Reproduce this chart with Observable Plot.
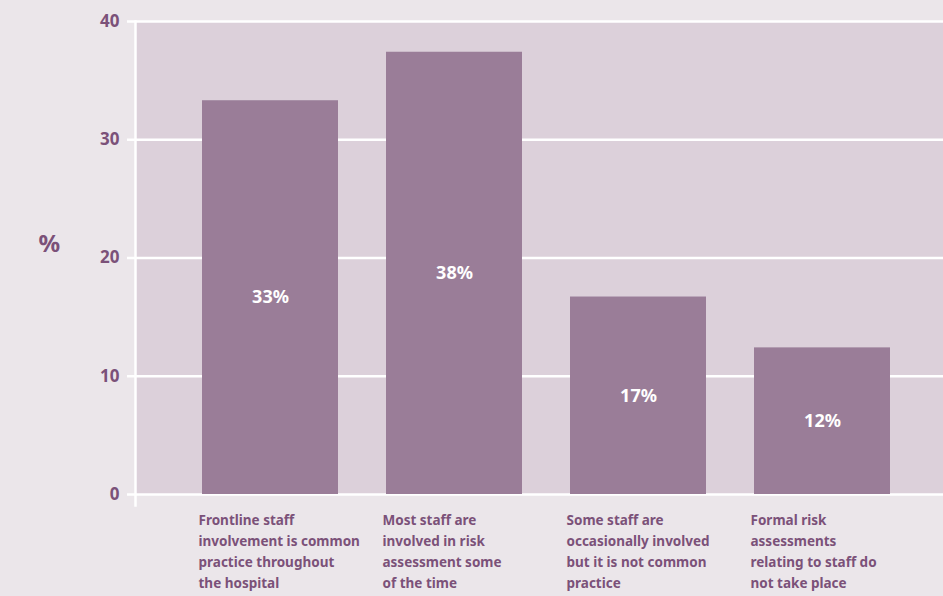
<!DOCTYPE html>
<html>
<head>
<meta charset="utf-8">
<script src="https://cdn.jsdelivr.net/npm/d3@7"></script>
<script src="https://cdn.jsdelivr.net/npm/@observablehq/plot@0.6"></script>
<style>
  html, body { margin: 0; padding: 0; background: #ebe6ea; }
  #chart svg { font-family: "Noto Sans", "Open Sans", sans-serif; }
</style>
</head>
<body>
<div id="chart"></div>
<script>
const categories = [
  "Frontline staff\ninvolvement is common\npractice throughout\nthe hospital",
  "Most staff are\ninvolved in risk\nassessment some\nof the time",
  "Some staff are\noccasionally involved\nbut it is not common\npractice",
  "Formal risk\nassessments\nrelating to staff do\nnot take place"
];
const values = [33.3, 37.4, 16.7, 12.4];
const valueLabels = ["33%", "38%", "17%", "12%"];
const yTicks = [0, 10, 20, 30, 40];
const yAxisLabel = "%";

const data = categories.map((c, i) => ({cat: c, value: values[i], label: valueLabels[i]}));

const textColor = "#7b5179";
const barColor = "#9a7d98";
const panelColor = "#dcd0da";

const chart = Plot.plot({
  width: 943,
  height: 596,
  marginLeft: 135,
  marginRight: 0,
  marginTop: 21,
  marginBottom: 102,
  style: {background: "#ebe6ea", fontFamily: "'Noto Sans', sans-serif"},
  x: {domain: categories, padding: 0.26, paddingOuter: 0.314, align: 0.56, axis: null},
  y: {domain: [0, 40], axis: null},
  marks: [
    Plot.frame({fill: panelColor}),
    Plot.ruleY(yTicks, {stroke: "white", strokeWidth: 2.5}),
    Plot.barY(data, {x: "cat", y: "value", fill: barColor}),
    Plot.axisY({
      ticks: yTicks, tickSize: 8, tickPadding: 8, stroke: "white", strokeWidth: 2.5,
      fill: textColor, fontSize: 17, fontWeight: "bold",
      label: null
    }),
    Plot.frame({anchor: "left", stroke: "white", strokeWidth: 2.5, insetBottom: -11}),
    Plot.text(data, {
      x: "cat", y: d => d.value / 2, text: "label", fill: "white",
      fontSize: 18, fontWeight: "bold"
    }),
    Plot.text(data, {
      x: "cat", y: 0, text: "cat", fill: textColor, fontSize: 13.5, fontWeight: "bold",
      textAnchor: "start", lineAnchor: "top", lineHeight: 1.55, dx: -72, dy: 16
    }),
    Plot.text([yAxisLabel], {
      text: d => d, frameAnchor: "left", dx: -97, dy: -14, fill: textColor,
      fontSize: 24, fontWeight: "bold"
    })
  ]
});
document.getElementById("chart").appendChild(chart);
</script>
</body>
</html>
